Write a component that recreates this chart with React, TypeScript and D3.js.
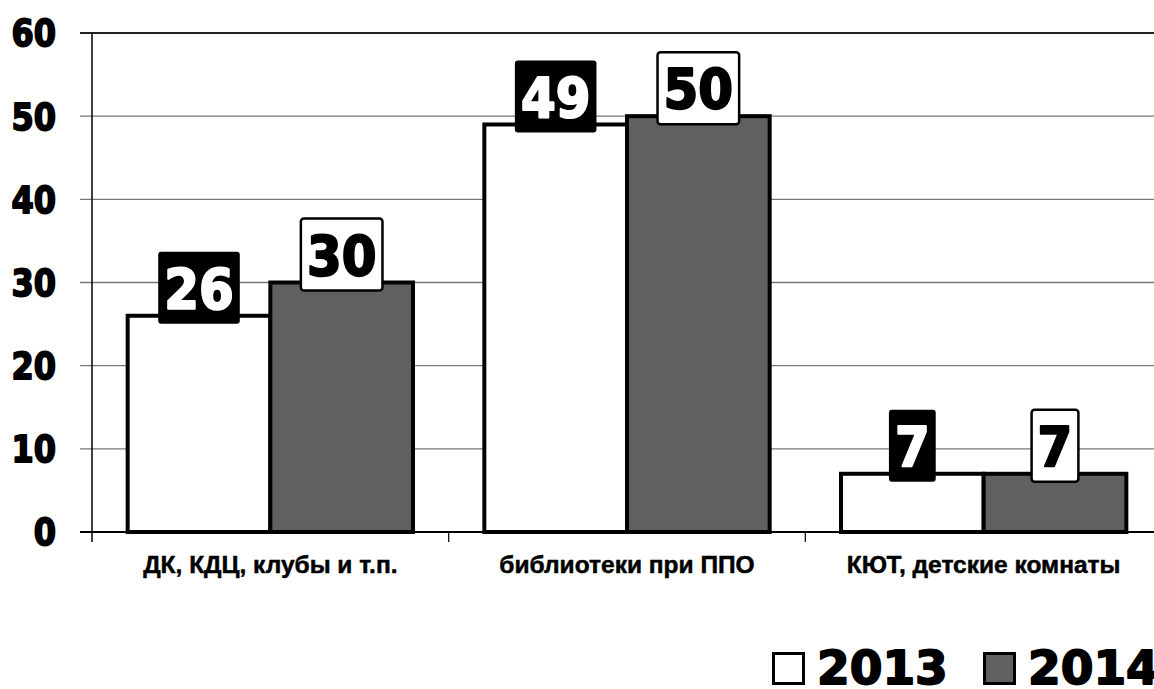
import React from "react";
import * as d3 from "d3";

const categories = ["ДК, КДЦ, клубы и т.п.", "библиотеки при ППО", "КЮТ, детские комнаты"];
const seriesNames = ["2013", "2014"];
const values2013 = [26, 49, 7];
const values2014 = [30, 50, 7];
const yTicks = [0, 10, 20, 30, 40, 50, 60];

const W = 1154;
const H = 689;
const fills = ["#ffffff", "#606060"];

export default function App() {
  const x0 = d3.scaleBand<string>().domain(categories).range([92, 1162]).paddingInner(0).paddingOuter(0);
  const x1 = d3.scaleBand<string>().domain(seriesNames).range([0, x0.bandwidth()]).paddingInner(0).paddingOuter(0.25);
  const y = d3.scaleLinear().domain([0, 60]).range([532, 33]);
  const series = [values2013, values2014];
  const labelFont = 50;
  const labelScale = 1.1;

  return (
    <svg width={W} height={H} style={{ position: "absolute", left: 0, top: 0, background: "#fff" }}>
      {/* gridlines */}
      {yTicks.map((t) => (
        <line key={"g" + t} x1={80} x2={W} y1={y(t)} y2={y(t)} stroke={t === 60 ? "#222" : t === 0 ? "#000" : "#777"} strokeWidth={t === 60 || t === 0 ? 2 : 1.3} />
      ))}
      {/* y axis */}
      <line x1={92} x2={92} y1={y(60)} y2={y(0) + 10} stroke="#111" strokeWidth={1.6} />
      {/* x ticks */}
      {categories.slice(1).map((c) => (
        <line key={"xt" + c} x1={x0(c)!} x2={x0(c)!} y1={y(0)} y2={y(0) + 10} stroke="#111" strokeWidth={1.3} />
      ))}
      {/* y tick labels */}
      {yTicks.map((t) => (
        <text key={"yl" + t} transform={`translate(56,${y(t) + 0.73 * 32 * 1.15 / 2}) scale(1,1.15)`} textAnchor="end" fontFamily="DejaVu Sans" fontWeight="bold" fontSize={32} fill="#000" stroke="#000" strokeWidth={1.6} strokeLinejoin="round">
          {t}
        </text>
      ))}
      {/* bars */}
      {categories.map((c, ci) =>
        seriesNames.map((s, si) => {
          const v = series[si][ci];
          const bx = x0(c)! + x1(s)!;
          return (
            <rect key={c + s} x={bx} y={y(v)} width={x1.bandwidth()} height={y(0) - y(v)} fill={fills[si]} stroke="#000" strokeWidth={4} />
          );
        })
      )}
      {/* data labels */}
      {categories.map((c, ci) =>
        seriesNames.map((s, si) => {
          const v = series[si][ci];
          const cx = x0(c)! + x1(s)! + x1.bandwidth() / 2;
          const cy = y(v) - 28;
          const txt = String(v);
          const bw = txt.length * 0.696 * labelFont + 12;
          const bh = 72;
          const dark = si === 0;
          const col = dark ? "#fff" : "#000";
          return (
            <g key={"l" + c + s}>
              <rect x={cx - bw / 2} y={cy - bh / 2} width={bw} height={bh} rx={3} fill={dark ? "#000" : "#fff"} stroke="#000" strokeWidth={dark ? 0 : 2.5} />
              <text transform={`translate(${cx},${cy + (0.73 * labelFont * labelScale) / 2}) scale(1,${labelScale})`} textAnchor="middle" fontFamily="DejaVu Sans" fontWeight="bold" fontSize={labelFont} fill={col} stroke={col} strokeWidth={2} strokeLinejoin="round">
                {txt}
              </text>
            </g>
          );
        })
      )}
      {/* category labels */}
      {categories.map((c) => (
        <text key={"c" + c} x={x0(c)! + x0.bandwidth() / 2} y={573} textAnchor="middle" fontFamily="Liberation Sans" fontWeight="bold" fontSize={24.5} fill="#000" stroke="#000" strokeWidth={0.5}>
          {c}
        </text>
      ))}
      {/* legend */}
      {seriesNames.map((s, si) => {
        const sx = si === 0 ? 772 : 983;
        return (
          <g key={"lg" + s}>
            <rect x={sx + 1.5} y={653.5} width={30} height={30} fill={fills[si]} stroke="#000" strokeWidth={3} />
            <text x={sx + 45} y={684} fontFamily="DejaVu Sans" fontWeight="bold" fontSize={47} fill="#000" stroke="#000" strokeWidth={1.8} strokeLinejoin="round">
              {s}
            </text>
          </g>
        );
      })}
    </svg>
  );
}
